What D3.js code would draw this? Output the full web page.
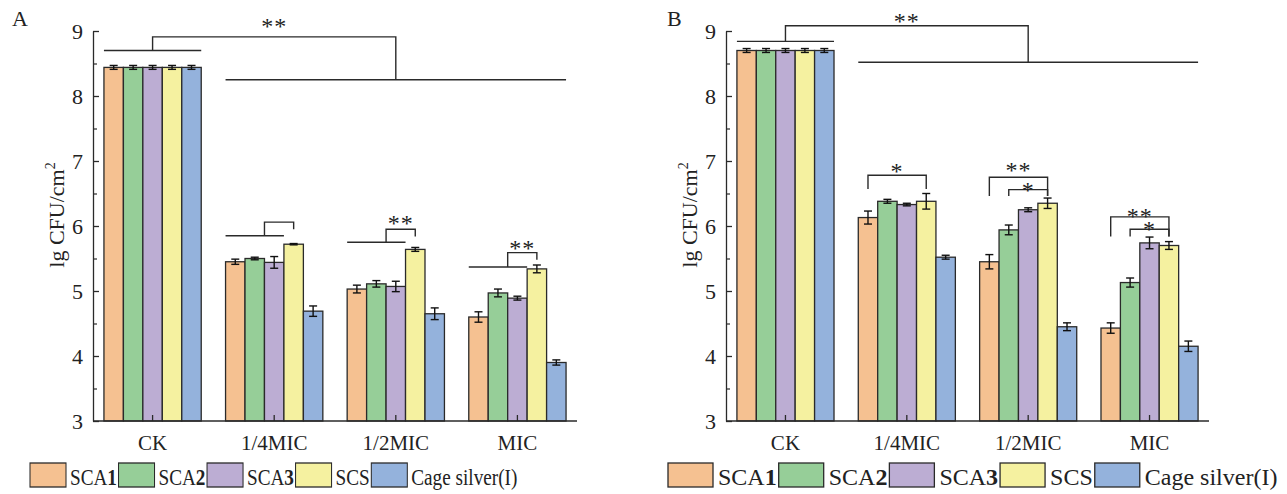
<!DOCTYPE html>
<html>
<head>
<meta charset="utf-8">
<script src="https://cdn.jsdelivr.net/npm/d3@7"></script>
<style>
  html, body { margin: 0; padding: 0; background: #fff; }
  svg text { font-family: "Liberation Serif", "Times New Roman", serif; fill: #222; }
</style>
</head>
<body>
<svg id="chart" width="1287" height="494"></svg>
<script>
// ---------- data ----------
const groups = ["CK", "1/4MIC", "1/2MIC", "MIC"];
const seriesNames = ["SCA1", "SCA2", "SCA3", "SCS", "Cage silver(I)"];
const seriesColors = ["#F5C191", "#96CE98", "#BCADD3", "#F5F1A0", "#94B2DC"];
const yTicks = [3, 4, 5, 6, 7, 8, 9];
const yMinorTicks = [3.5, 4.5, 5.5, 6.5, 7.5, 8.5];

// Panel A
const sca1A = [8.44, 5.45, 5.03, 4.60];
const sca2A = [8.44, 5.50, 5.11, 4.97];
const sca3A = [8.44, 5.44, 5.07, 4.89];
const scsA  = [8.44, 5.72, 5.64, 5.34];
const cageA = [8.44, 4.69, 4.65, 3.90];
const sca1AErr = [0.03, 0.04, 0.06, 0.08];
const sca2AErr = [0.03, 0.02, 0.05, 0.06];
const sca3AErr = [0.03, 0.09, 0.08, 0.03];
const scsAErr  = [0.03, 0.01, 0.03, 0.06];
const cageAErr = [0.03, 0.08, 0.09, 0.04];

// Panel B
const sca1B = [8.70, 6.13, 5.45, 4.43];
const sca2B = [8.70, 6.38, 5.94, 5.13];
const sca3B = [8.70, 6.33, 6.25, 5.74];
const scsB  = [8.70, 6.38, 6.35, 5.70];
const cageB = [8.70, 5.52, 4.45, 4.15];
const sca1BErr = [0.03, 0.10, 0.11, 0.08];
const sca2BErr = [0.03, 0.03, 0.075, 0.07];
const sca3BErr = [0.03, 0.02, 0.03, 0.09];
const scsBErr  = [0.03, 0.12, 0.08, 0.06];
const cageBErr = [0.03, 0.03, 0.06, 0.08];

// significance annotations (anchors: [group, bar, L|C|R] or [group,'mid'])
const spansA = [
  {a: [0, 0, "L"], b: [0, 4, "R"], v: 8.70},
  {a: [1, 0, "L"], b: [3, 4, "R"], v: 8.25},
  {a: [1, 0, "L"], b: [1, 2, "R"], v: 5.85},
  {a: [2, 0, "L"], b: [2, 2, "R"], v: 5.75},
  {a: [3, 0, "L"], b: [3, 2, "R"], v: 5.37}
];
const bracketsA = [
  {a: [0, "mid"], aV: 8.70, b: [2, "mid"], bV: 8.25, top: 8.91, label: "**", labelV: 9.15},
  {a: [1, 2, "L"], aV: 5.85, b: [1, 3, "C"], bV: 5.95, top: 6.06, label: "", labelV: 6.2},
  {a: [2, 2, "L"], aV: 5.75, b: [2, 3, "C"], bV: 5.84, top: 5.95, label: "**", labelV: 6.11},
  {a: [3, 2, "L"], aV: 5.37, b: [3, 3, "C"], bV: 5.48, top: 5.59, label: "**", labelV: 5.73}
];
const spansB = [
  {a: [0, 0, "L"], b: [0, 4, "R"], v: 8.84},
  {a: [1, 0, "L"], b: [3, 4, "R"], v: 8.52}
];
const bracketsB = [
  {a: [0, "mid"], aV: 8.84, b: [2, "mid"], bV: 8.52, top: 9.08, label: "**", labelV: 9.23},
  {a: [1, 0, "C"], aV: 6.57, b: [1, 3, "C"], bV: 6.57, top: 6.78, label: "*", labelV: 6.91},
  {a: [2, 0, "C"], aV: 6.46, b: [2, 3, "C"], bV: 6.46, top: 6.75, label: "**", labelV: 6.93},
  {a: [2, 1, "C"], aV: 6.46, b: [2, 3, "C"], bV: 6.46, top: 6.56, label: "*", labelV: 6.63},
  {a: [3, 0, "C"], aV: 5.84, b: [3, 3, "C"], bV: 5.84, top: 6.14, label: "**", labelV: 6.23},
  {a: [3, 1, "C"], aV: 5.84, b: [3, 3, "C"], bV: 5.84, top: 5.95, label: "*", labelV: 6.02}
];

// ---------- drawing ----------
const svg = d3.select("#chart");
const ink = "#2a2a2a";

function drawPanel(cfg) {
  const g = svg.append("g");
  const x0 = d3.scaleBand().domain(groups).range([cfg.left, cfg.right]).paddingInner(0.2).paddingOuter(0.09);
  const x1 = d3.scaleBand().domain(d3.range(seriesNames.length)).range([0, x0.bandwidth()]).padding(0);
  const y = d3.scaleLinear().domain([3, 9]).range([421, 31]);

  const rows = [];
  groups.forEach((grp, gi) => {
    cfg.values.forEach((vals, si) => {
      rows.push({grp, gi, si, v: vals[gi], e: cfg.errors[si][gi]});
    });
  });

  // bars
  g.selectAll("rect.bar").data(rows).join("rect")
    .attr("class", "bar")
    .attr("x", d => x0(d.grp) + x1(d.si))
    .attr("y", d => y(d.v))
    .attr("width", x1.bandwidth())
    .attr("height", d => y(3) - y(d.v))
    .attr("fill", d => seriesColors[d.si])
    .attr("stroke", ink).attr("stroke-width", 1.3);

  // error bars
  const eg = g.selectAll("g.err").data(rows).join("g").attr("class", "err")
    .attr("stroke", "#111").attr("stroke-width", 1.4);
  const cx = d => x0(d.grp) + x1(d.si) + x1.bandwidth() / 2;
  eg.append("line").attr("x1", cx).attr("x2", cx).attr("y1", d => y(d.v - d.e)).attr("y2", d => y(d.v + d.e));
  eg.append("line").attr("x1", d => cx(d) - 4).attr("x2", d => cx(d) + 4).attr("y1", d => y(d.v - d.e)).attr("y2", d => y(d.v - d.e));
  eg.append("line").attr("x1", d => cx(d) - 4).attr("x2", d => cx(d) + 4).attr("y1", d => y(d.v + d.e)).attr("y2", d => y(d.v + d.e));

  // axes
  const yAxis = g.append("g").attr("transform", `translate(${cfg.left},0)`)
    .call(d3.axisLeft(y).tickValues(yTicks).tickFormat(d3.format("d")).tickSize(-6).tickSizeOuter(0).tickPadding(10));
  yAxis.select(".domain").attr("stroke", ink).attr("stroke-width", 1.3);
  yAxis.selectAll(".tick line").attr("stroke", ink).attr("stroke-width", 1.3);
  yAxis.selectAll(".tick text").style("font-size", "22px").attr("fill", "#222")
    .style("font-family", '"Liberation Serif", serif');

  const yMinor = g.append("g").attr("transform", `translate(${cfg.left},0)`)
    .call(d3.axisLeft(y).tickValues(yMinorTicks).tickFormat("").tickSize(-4).tickSizeOuter(0));
  yMinor.select(".domain").remove();
  yMinor.selectAll(".tick line").attr("stroke", ink).attr("stroke-width", 1.2);

  const xAxis = g.append("g").attr("transform", "translate(0,421)")
    .call(d3.axisBottom(x0).tickSize(-6).tickSizeOuter(0).tickPadding(12));
  xAxis.select(".domain").attr("stroke", ink).attr("stroke-width", 1.3)
    .attr("d", `M${cfg.left},0H${cfg.right}`);
  xAxis.selectAll(".tick line").attr("stroke", ink).attr("stroke-width", 1.3);
  xAxis.selectAll(".tick text").style("font-size", "21px").attr("fill", "#222")
    .attr("dy", null).attr("y", 29)
    .style("font-family", '"Liberation Serif", serif');

  // y title
  const yt = g.append("text")
    .attr("transform", `translate(${cfg.left - 29},215) rotate(-90)`)
    .attr("text-anchor", "middle")
    .style("font-size", "22px");
  yt.append("tspan").text("lg CFU/cm");
  yt.append("tspan").text("2").style("font-size", "14px").attr("dy", -9);

  // panel letter
  g.append("text").attr("x", cfg.letterX).attr("y", 26).style("font-size", "22px").text(cfg.letter);

  // significance
  function ax(a) {
    if (a[1] === "mid") return x0(groups[a[0]]) + x0.bandwidth() / 2;
    const base = x0(groups[a[0]]) + x1(a[1]);
    if (a[2] === "L") return base;
    if (a[2] === "R") return base + x1.bandwidth();
    return base + x1.bandwidth() / 2;
  }
  const sg = g.append("g").attr("fill", "none").attr("stroke", ink).attr("stroke-width", 1.4);
  cfg.spans.forEach(s => {
    sg.append("line").attr("x1", ax(s.a)).attr("x2", ax(s.b)).attr("y1", y(s.v)).attr("y2", y(s.v));
  });
  cfg.brackets.forEach(b => {
    const xa = ax(b.a), xb = ax(b.b);
    sg.append("path").attr("d", `M${xa},${y(b.aV)}V${y(b.top)}H${xb}V${y(b.bV)}`);
    if (b.label) {
      g.append("text").attr("x", (xa + xb) / 2).attr("y", y(b.labelV) + 12.5)
        .attr("text-anchor", "middle").style("font-size", "24px").style("letter-spacing", "1px")
        .attr("fill", "#333").text(b.label);
    }
  });

  // legend
  const lg = svg.append("g").attr("transform", `translate(${cfg.legendX},0) scale(${cfg.legendScale},1)`);
  let cur = 0;
  seriesNames.forEach((name, i) => {
    lg.append("rect").attr("x", cur).attr("y", 463).attr("width", 45).attr("height", 24)
      .attr("fill", seriesColors[i]).attr("stroke", ink).attr("stroke-width", 1.3);
    cur += 45 + 5;
    const t = lg.append("text").attr("x", cur).attr("y", 485).style("font-size", "24px");
    const m = name.match(/^(SCA)(\d)$/);
    if (m) {
      t.append("tspan").text(m[1]);
      t.append("tspan").text(m[2]).style("font-weight", "bold");
    } else {
      t.text(name);
    }
    cur += t.node().getComputedTextLength() + 2;
  });
}

drawPanel({
  left: 93, right: 577, letter: "A", letterX: 12,
  values: [sca1A, sca2A, sca3A, scsA, cageA],
  errors: [sca1AErr, sca2AErr, sca3AErr, scsAErr, cageAErr],
  spans: spansA, brackets: bracketsA,
  legendX: 30, legendScale: 0.8
});
drawPanel({
  left: 726, right: 1209, letter: "B", letterX: 667,
  values: [sca1B, sca2B, sca3B, scsB, cageB],
  errors: [sca1BErr, sca2BErr, sca3BErr, scsBErr, cageBErr],
  spans: spansB, brackets: bracketsB,
  legendX: 668, legendScale: 1
});
</script>
</body>
</html>
